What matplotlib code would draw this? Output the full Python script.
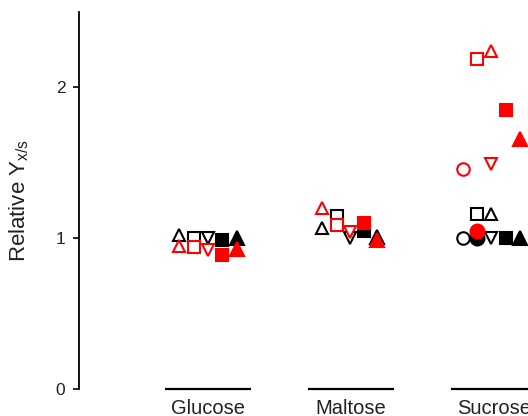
import numpy as np
import matplotlib
matplotlib.use("Agg")
import matplotlib.pyplot as plt

plt.rcParams['font.family'] = ['Liberation Sans', 'DejaVu Sans']
plt.rcParams['mathtext.default'] = 'regular'

# Data
GROUPS = ['Glucose', 'Maltose', 'Sucrose']
NAN = np.nan

# marker kinds drawn in each group
KINDS = ['open_circle', 'filled_circle', 'open_square', 'open_tri_up',
         'open_tri_down', 'filled_square', 'filled_tri_up']

black_values = {
    'open_circle':   [NAN, NAN, 1.00],
    'filled_circle': [NAN, NAN, 1.00],
    'open_square':   [1.00, 1.15, 1.16],
    'open_tri_up':   [1.02, 1.07, 1.16],
    'open_tri_down': [1.00, 1.00, 1.00],
    'filled_square': [0.99, 1.05, 1.00],
    'filled_tri_up': [1.00, 1.01, 1.00],
}

red_values = {
    'open_circle':   [NAN, NAN, 1.46],
    'filled_circle': [NAN, NAN, 1.05],
    'open_square':   [0.94, 1.09, 2.19],
    'open_tri_up':   [0.95, 1.20, 2.24],
    'open_tri_down': [0.92, 1.04, 1.49],
    'filled_square': [0.89, 1.10, 1.85],
    'filled_tri_up': [0.93, 0.99, 1.66],
}

# horizontal slot of each marker kind inside a group
slot_offsets = {
    'open_circle':   [NAN, NAN, -0.22],
    'filled_circle': [NAN, NAN, -0.12],
    'open_square':   [-0.1, -0.1, -0.12],
    'open_tri_up':   [-0.2, -0.2, -0.02],
    'open_tri_down': [0.0, -0.01, -0.02],
    'filled_square': [0.1, 0.09, 0.08],
    'filled_tri_up': [0.2, 0.18, 0.18],
}

STYLE = {
    'open_circle':   ('o', False, 9),
    'filled_circle': ('o', True, 10),
    'open_square':   ('s', False, 8.5),
    'open_tri_up':   ('^', False, 9),
    'open_tri_down': ('v', False, 9),
    'filled_square': ('s', True, 9),
    'filled_tri_up': ('^', True, 9.5),
}


def draw_series(ax, values, color):
    """Draw one colour's set of markers."""
    centers = np.arange(len(GROUPS))
    for kind in KINDS:
        marker, filled, ms = STYLE[kind]
        x = centers + np.array(slot_offsets[kind])
        y = np.array(values[kind])
        ax.plot(x, y, linestyle='none', marker=marker, markersize=ms,
                markeredgewidth=1.5, markeredgecolor=color,
                markerfacecolor=color if filled else 'white',
                clip_on=False)


def main():
    fig = plt.figure(figsize=(5.28, 4.16), dpi=100)
    W, H = 528, 416
    left, bottom, top = 79, 389, 12
    ax = fig.add_axes([left / W, (H - bottom) / H, (W - left) / W, (bottom - top) / H])

    draw_series(ax, black_values, 'black')
    draw_series(ax, red_values, '#ff0000')

    centers = np.arange(len(GROUPS))
    ax.hlines(np.zeros(len(GROUPS)), centers - 0.3, centers + 0.3,
              color='black', linewidth=1.6, clip_on=False)

    ax.set_xlim(-0.9, 2.235)
    ax.set_ylim(0, 2.5)
    ax.set_yticks([0, 1, 2])
    ax.set_xticks(centers)
    ax.set_xticklabels(GROUPS, fontsize=14.5, color='#222222')
    ax.tick_params(axis='x', length=0, pad=7)
    ax.tick_params(axis='y', length=4.3, width=1.2, labelsize=12.5, pad=5.5,
                   direction='out', labelcolor='#222222')

    for side in ['top', 'right', 'bottom']:
        ax.spines[side].set_visible(False)
    ax.spines['left'].set_linewidth(1.3)

    ax.set_ylabel('Relative Y$_{x/s}$', fontsize=16, color='#222222')
    ax.yaxis.set_label_coords(-0.107, 0.5)

    fig.savefig('out.png', dpi=100)


if __name__ == "__main__":
    main()
